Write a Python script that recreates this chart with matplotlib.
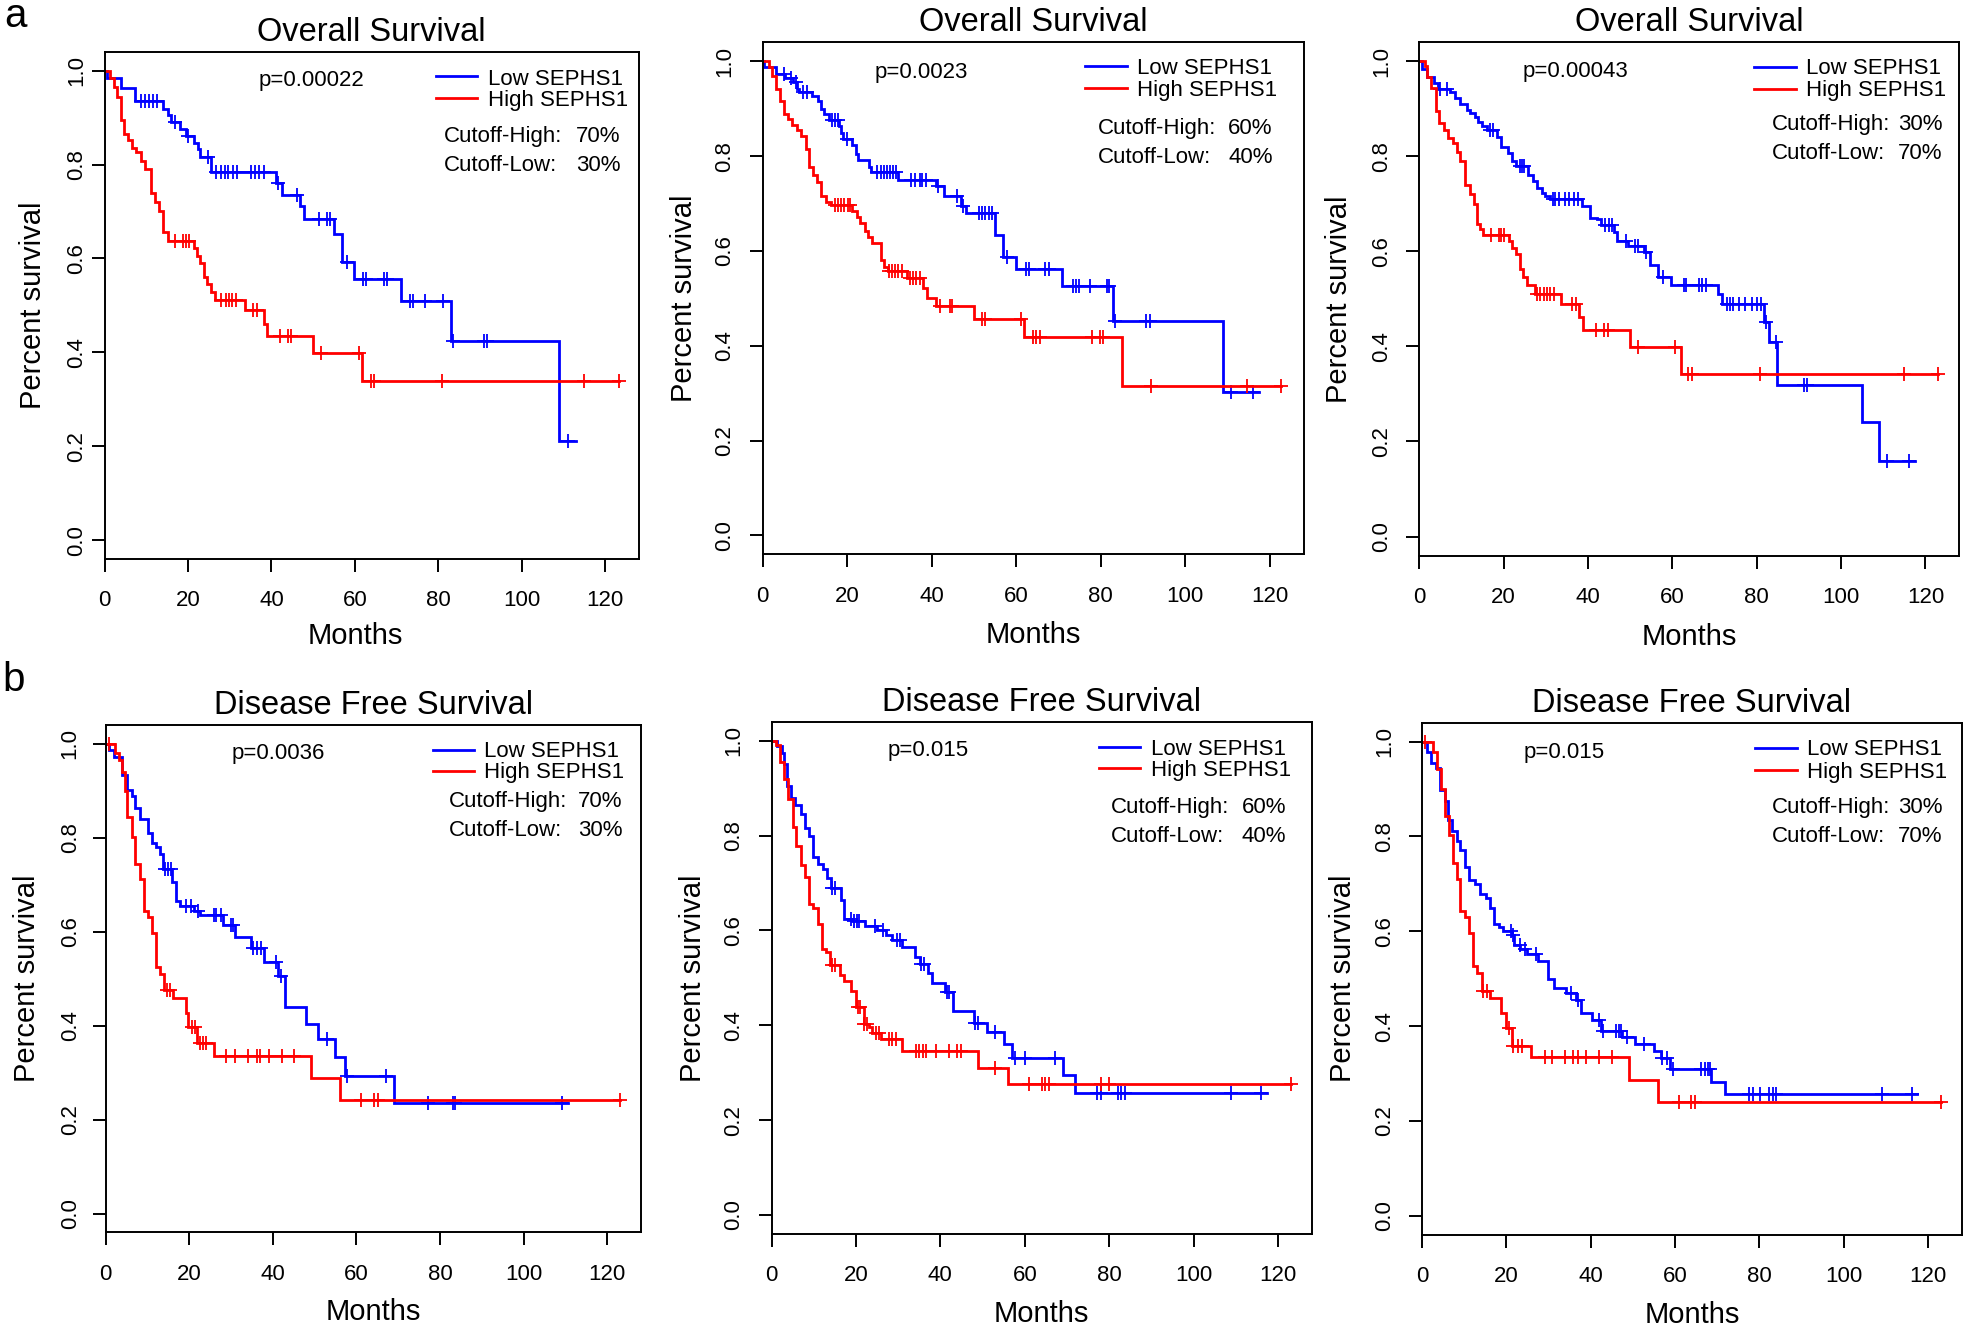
import matplotlib
matplotlib.use("Agg")
import matplotlib.pyplot as plt

plt.rcParams['font.family'] = ['Liberation Sans', 'DejaVu Sans']

W, H = 1965, 1328
BLUE = '#0000FF'
RED = '#FF0000'

# ------------------------------------------------------------------ data
# a1  Overall Survival, cutoff 70% / 30%
a1_low_t = [0.6, 4.0, 7.4, 13.9, 15.1, 15.9, 18.0, 19.5, 21.4, 22.4, 22.9, 25.6, 41.0, 42.5, 46.9, 47.8,
            55.0, 56.8, 59.9, 71.1, 83.1, 109.0]
a1_low_s = [0.984, 0.963, 0.935, 0.919, 0.906, 0.890, 0.876, 0.861, 0.845, 0.832, 0.816, 0.785, 0.760,
            0.735, 0.711, 0.684, 0.653, 0.593, 0.557, 0.510, 0.425, 0.212]
a1_low_c = [8.7, 9.7, 10.7, 11.7, 12.6, 16.8, 20.0, 24.9, 26.8, 27.8, 28.8, 29.7, 30.7, 31.7, 35.1, 36.1,
            37.1, 38.1, 41.5, 46.2, 51.3, 53.2, 54.0, 58.0, 62.0, 62.7, 66.9, 67.6, 73.3, 74.0, 76.7,
            81.1, 83.6, 90.9, 91.6, 111.0]
a1_low_end = 112.9
a1_high_t = [1.4, 2.3, 3.0, 3.9, 4.7, 5.7, 6.6, 7.5, 8.7, 9.6, 11.1, 12.0, 13.0, 13.9, 15.1, 21.4, 22.2,
             23.0, 23.8, 24.6, 25.4, 26.4, 33.7, 38.1, 39.0, 50.0, 61.8]
a1_high_s = [0.985, 0.965, 0.944, 0.895, 0.865, 0.853, 0.835, 0.826, 0.808, 0.790, 0.740, 0.720, 0.700,
             0.657, 0.638, 0.622, 0.606, 0.590, 0.560, 0.545, 0.528, 0.512, 0.490, 0.460, 0.435, 0.398,
             0.340]
a1_high_c = [16.8, 18.8, 19.6, 20.2, 28.0, 29.0, 29.8, 30.6, 31.5, 35.6, 36.6, 42.0, 43.9, 44.6, 51.8,
             60.9, 63.9, 64.6, 80.9, 115.0, 123.2]
a1_high_end = 123.2

# a2  Overall Survival, cutoff 60% / 40%
a2_low_t = [0.2, 3.2, 5.2, 7.2, 8.2, 8.7, 11.7, 13.1, 13.9, 14.6, 15.6, 18.1, 18.6, 19.1, 21.1, 22.1, 22.6,
            25.1, 25.6, 32.1, 41.0, 43.0, 47.0, 48.0, 55.0, 56.8, 60.0, 70.9, 82.9, 108.8]
a2_low_s = [0.987, 0.973, 0.965, 0.956, 0.942, 0.935, 0.926, 0.916, 0.900, 0.889, 0.876, 0.863, 0.849,
            0.836, 0.823, 0.805, 0.792, 0.778, 0.767, 0.749, 0.736, 0.716, 0.694, 0.679, 0.634, 0.588,
            0.561, 0.527, 0.452, 0.302]
a2_low_c = [5.0, 6.7, 7.9, 9.5, 10.5, 16.4, 17.1, 17.8, 19.9, 27.1, 27.9, 28.6, 29.4, 30.1, 30.9, 31.6,
            35.1, 36.1, 37.1, 37.8, 38.7, 41.5, 46.0, 47.5, 51.2, 52.0, 52.7, 53.5, 54.2, 57.9, 62.3,
            62.9, 66.9, 67.7, 73.4, 74.1, 74.9, 77.4, 81.4, 81.9, 83.4, 90.8, 91.6, 110.8, 116.0]
a2_low_end = 117.5
a2_high_t = [1.5, 2.2, 3.2, 4.0, 5.0, 6.0, 7.0, 8.0, 9.0, 10.2, 11.0, 12.0, 12.9, 13.9, 14.9, 16.1, 21.1,
             22.3, 23.1, 24.1, 24.9, 25.9, 27.9, 28.6, 29.6, 34.1, 38.0, 38.8, 41.0, 50.0, 61.8, 85.1]
a2_high_s = [0.987, 0.969, 0.942, 0.916, 0.889, 0.878, 0.865, 0.856, 0.843, 0.814, 0.776, 0.761, 0.745,
             0.716, 0.703, 0.696, 0.685, 0.672, 0.659, 0.643, 0.630, 0.616, 0.581, 0.566, 0.557, 0.543,
             0.521, 0.501, 0.483, 0.457, 0.419, 0.315]
a2_high_c = [17.1, 17.9, 18.6, 19.3, 20.1, 20.7, 29.8, 30.6, 31.3, 32.1, 32.9, 34.9, 35.6, 36.3, 37.1,
             42.0, 44.3, 44.8, 51.8, 52.5, 61.0, 63.9, 64.7, 65.7, 77.9, 79.7, 80.4, 91.8, 114.7, 122.7]
a2_high_end = 122.7

# a3  Overall Survival, cutoff 30% / 70%
a3_low_t = [0.7, 1.9, 3.4, 4.4, 7.4, 8.4, 9.7, 11.3, 12.0, 13.2, 14.0, 15.0, 16.0, 18.5, 19.5, 21.0, 22.0,
            23.0, 25.8, 27.0, 28.0, 29.0, 29.8, 31.1, 38.6, 40.6, 42.1, 43.1, 46.1, 46.9, 49.6, 53.2,
            54.7, 56.7, 59.7, 70.8, 71.8, 81.8, 82.8, 84.8, 104.9, 108.9]
a3_low_s = [0.984, 0.966, 0.953, 0.942, 0.934, 0.922, 0.909, 0.898, 0.891, 0.882, 0.873, 0.864, 0.855,
            0.840, 0.820, 0.807, 0.789, 0.780, 0.760, 0.747, 0.733, 0.723, 0.716, 0.709, 0.696, 0.671,
            0.668, 0.656, 0.641, 0.621, 0.612, 0.599, 0.572, 0.545, 0.530, 0.510, 0.490, 0.452, 0.410,
            0.319, 0.241, 0.160]
a3_low_c = [4.9, 6.7, 16.8, 17.5, 23.8, 24.3, 24.8, 31.6, 32.1, 33.1, 34.6, 35.6, 36.6, 37.6, 44.1, 45.1,
            45.8, 48.9, 51.2, 51.9, 53.7, 57.7, 62.7, 63.2, 66.2, 67.0, 68.0, 73.0, 73.7, 74.3, 75.8,
            77.3, 78.8, 80.1, 81.1, 82.3, 84.5, 91.2, 91.9, 110.9, 116.0]
a3_low_end = 117.5
a3_high_t = [1.4, 1.9, 2.9, 3.9, 4.7, 5.9, 6.9, 7.9, 8.9, 9.7, 10.8, 12.0, 13.0, 13.8, 14.5, 15.2, 21.2,
             22.0, 23.0, 23.8, 24.5, 25.5, 27.5, 33.6, 37.9, 38.9, 49.9, 62.0]
a3_high_s = [0.990, 0.966, 0.944, 0.895, 0.869, 0.855, 0.838, 0.827, 0.809, 0.789, 0.740, 0.721, 0.700,
             0.658, 0.647, 0.634, 0.621, 0.607, 0.594, 0.563, 0.547, 0.529, 0.510, 0.490, 0.461, 0.434,
             0.398, 0.341]
a3_high_c = [17.0, 18.8, 19.5, 20.2, 28.0, 28.7, 29.5, 30.4, 31.1, 31.9, 36.1, 37.1, 41.9, 43.9, 44.7,
             51.9, 60.7, 63.7, 64.7, 80.8, 115.0, 123.0]
a3_high_end = 123.0

# b1  Disease Free Survival, cutoff 70% / 30%
b1_low_t = [0.9, 1.9, 3.8, 5.2, 6.2, 6.9, 8.1, 10.1, 11.0, 12.0, 13.0, 13.8, 15.9, 16.9, 17.9, 21.1, 22.6,
            28.0, 30.9, 34.8, 38.0, 41.2, 42.9, 48.0, 50.9, 54.8, 57.3, 69.0]
b1_low_s = [0.988, 0.972, 0.934, 0.902, 0.890, 0.863, 0.841, 0.811, 0.789, 0.780, 0.766, 0.734, 0.707,
            0.666, 0.655, 0.644, 0.635, 0.615, 0.589, 0.565, 0.535, 0.506, 0.440, 0.403, 0.372, 0.334,
            0.293, 0.236]
b1_low_c = [14.3, 15.0, 15.7, 19.2, 20.5, 22.2, 26.0, 26.5, 27.5, 29.9, 30.4, 35.3, 36.3, 37.2, 40.8,
            41.9, 52.9, 57.8, 67.0, 77.1, 83.2, 83.7, 109.1]
b1_low_end = 110.6
b1_high_t = [2.3, 3.3, 3.8, 4.5, 5.2, 6.2, 7.1, 8.1, 9.1, 10.1, 11.0, 12.0, 13.0, 14.0, 16.2, 19.2, 19.8,
             21.8, 26.0, 49.2, 56.0]
b1_high_s = [0.981, 0.966, 0.941, 0.899, 0.845, 0.802, 0.745, 0.712, 0.644, 0.632, 0.597, 0.526, 0.510,
             0.476, 0.458, 0.428, 0.397, 0.363, 0.335, 0.288, 0.242]
b1_high_c = [0.9, 14.6, 15.3, 20.6, 21.4, 22.6, 23.3, 24.0, 28.9, 30.9, 34.1, 36.1, 37.0, 39.0, 42.1,
             45.1, 61.2, 64.1, 65.1, 123.0]
b1_high_end = 123.0

# b2  Disease Free Survival, cutoff 60% / 40%
b2_low_t = [1.2, 2.5, 3.0, 3.6, 4.6, 5.6, 6.9, 7.9, 8.9, 9.9, 10.9, 12.1, 13.1, 14.1, 16.5, 17.2, 19.1,
            22.1, 25.0, 27.0, 28.6, 31.0, 34.1, 35.1, 37.0, 38.0, 41.0, 43.0, 48.0, 51.0, 55.0, 57.0,
            69.0, 72.0]
b2_low_s = [0.990, 0.975, 0.951, 0.905, 0.880, 0.865, 0.845, 0.815, 0.800, 0.755, 0.740, 0.730, 0.710,
            0.690, 0.665, 0.625, 0.620, 0.610, 0.600, 0.590, 0.580, 0.565, 0.545, 0.530, 0.510, 0.490,
            0.470, 0.430, 0.405, 0.385, 0.360, 0.330, 0.295, 0.257]
b2_low_c = [14.3, 15.1, 18.9, 19.6, 20.2, 20.8, 24.5, 26.5, 29.8, 30.5, 35.5, 36.2, 41.5, 42.0, 48.2,
            49.0, 53.0, 57.8, 60.0, 67.1, 77.1, 78.1, 82.1, 82.9, 83.7, 109.0, 116.0]
b2_low_end = 117.5
b2_high_t = [1.1, 1.9, 2.9, 3.9, 5.1, 5.9, 6.9, 7.9, 8.9, 9.9, 10.9, 11.9, 12.9, 13.9, 16.1, 17.1, 18.9,
             19.9, 21.8, 23.0, 23.8, 26.0, 30.8, 49.0, 56.0]
b2_high_s = [0.992, 0.956, 0.919, 0.877, 0.819, 0.778, 0.738, 0.713, 0.656, 0.648, 0.613, 0.561, 0.554,
             0.527, 0.505, 0.494, 0.472, 0.438, 0.402, 0.396, 0.384, 0.372, 0.345, 0.309, 0.276]
b2_high_c = [14.3, 15.1, 20.5, 21.0, 22.0, 22.5, 24.8, 25.5, 27.8, 28.5, 29.5, 34.2, 35.0, 35.8, 36.5,
             39.0, 42.0, 44.0, 45.0, 53.0, 61.0, 64.1, 64.9, 65.7, 78.1, 79.9, 123.0]
b2_high_end = 123.0

# b3  Disease Free Survival, cutoff 30% / 70%
b3_low_t = [1.2, 2.2, 3.2, 4.2, 5.5, 6.2, 7.2, 8.2, 9.1, 10.1, 11.1, 12.5, 13.8, 15.1, 16.1, 17.1, 18.3,
            19.3, 21.3, 21.8, 23.3, 24.8, 27.4, 29.9, 31.2, 34.2, 36.4, 37.7, 40.4, 42.5, 47.5, 50.5,
            55.0, 56.7, 58.8, 68.6, 71.8]
b3_low_s = [0.979, 0.955, 0.944, 0.897, 0.874, 0.834, 0.812, 0.791, 0.771, 0.735, 0.709, 0.700, 0.679,
            0.671, 0.650, 0.616, 0.610, 0.601, 0.592, 0.571, 0.562, 0.552, 0.538, 0.500, 0.480, 0.469,
            0.455, 0.428, 0.413, 0.390, 0.377, 0.363, 0.347, 0.332, 0.309, 0.283, 0.257]
b3_low_c = [21.1, 21.6, 23.1, 24.5, 26.9, 35.4, 37.0, 42.0, 43.0, 46.0, 46.7, 47.2, 48.7, 52.7, 57.0,
            58.0, 59.6, 66.1, 67.1, 67.8, 68.3, 77.5, 78.5, 80.2, 82.2, 83.2, 83.9, 109.1, 116.1]
b3_low_end = 117.4
b3_high_t = [2.5, 3.5, 4.5, 5.5, 6.4, 7.4, 8.2, 9.1, 10.1, 11.1, 12.1, 13.1, 14.1, 16.1, 18.8, 19.8,
             21.3, 25.9, 49.0, 56.0]
b3_high_s = [0.978, 0.942, 0.901, 0.843, 0.803, 0.744, 0.711, 0.643, 0.630, 0.596, 0.526, 0.511, 0.475,
             0.459, 0.428, 0.395, 0.359, 0.335, 0.287, 0.240]
b3_high_c = [0.7, 14.5, 15.3, 20.5, 21.5, 22.8, 23.8, 29.2, 30.9, 33.9, 35.9, 36.9, 38.9, 42.0, 45.0,
             60.9, 63.8, 64.8, 123.1]
b3_high_end = 123.1

titles = ['Overall Survival'] * 3 + ['Disease Free Survival'] * 3
pvalues = ['p=0.00022', 'p=0.0023', 'p=0.00043', 'p=0.0036', 'p=0.015', 'p=0.015']
cutoff_high = ['70%', '60%', '30%', '70%', '60%', '30%']
cutoff_low = ['30%', '40%', '70%', '30%', '40%', '70%']
series_labels = ['Low SEPHS1', 'High SEPHS1']
x_ticks = [0, 20, 40, 60, 80, 100, 120]
y_ticks = [0.0, 0.2, 0.4, 0.6, 0.8, 1.0]
y_ticklabels = ['0.0', '0.2', '0.4', '0.6', '0.8', '1.0']

curves = [
    ((a1_low_t, a1_low_s, a1_low_c, a1_low_end), (a1_high_t, a1_high_s, a1_high_c, a1_high_end)),
    ((a2_low_t, a2_low_s, a2_low_c, a2_low_end), (a2_high_t, a2_high_s, a2_high_c, a2_high_end)),
    ((a3_low_t, a3_low_s, a3_low_c, a3_low_end), (a3_high_t, a3_high_s, a3_high_c, a3_high_end)),
    ((b1_low_t, b1_low_s, b1_low_c, b1_low_end), (b1_high_t, b1_high_s, b1_high_c, b1_high_end)),
    ((b2_low_t, b2_low_s, b2_low_c, b2_low_end), (b2_high_t, b2_high_s, b2_high_c, b2_high_end)),
    ((b3_low_t, b3_low_s, b3_low_c, b3_low_end), (b3_high_t, b3_high_s, b3_high_c, b3_high_end)),
]

# ------------------------------------------------------------------ layout
# pixel geometry per panel: x of month 0, x of month 120, top, bottom
geom = [
    (104.5, 605.3, 51.8, 559.0),
    (762.7, 1269.9, 42.3, 554.3),
    (1419.2, 1925.5, 42.1, 555.6),
    (105.7, 607.1, 725.2, 1232.3),
    (771.6, 1277.9, 721.8, 1233.9),
    (1422.1, 1928.1, 722.6, 1234.8),
]
XMAX = 128.0
YLIM = (-0.04, 1.04)

# text placement per panel (data coordinates)
p_pos = [(49.6, 0.968), (37.5, 0.965), (37.1, 0.966), (41.4, 0.968), (37.0, 0.967), (33.8, 0.966)]
leg_pos = [
    (79.5, 89.3, 91.9, 0.988, 0.942, 0.970, 0.924),
    (76.2, 86.1, 88.5, 0.989, 0.944, 0.973, 0.927),
    (79.3, 89.3, 91.7, 0.988, 0.942, 0.9725, 0.926),
    (78.3, 88.2, 90.5, 0.988, 0.943, 0.972, 0.927),
    (77.7, 87.4, 89.9, 0.987, 0.942, 0.971, 0.925),
    (79.0, 88.9, 91.2, 0.987, 0.940, 0.971, 0.924),
]
cut_pos = [
    (81.3, 123.7, 0.847, 0.787),
    (79.2, 120.7, 0.847, 0.785),
    (83.5, 124.0, 0.855, 0.795),
    (82.2, 123.7, 0.866, 0.805),
    (80.4, 122.0, 0.848, 0.787),
    (82.9, 123.4, 0.850, 0.789),
]
months_xfrac = [0.47, 0.5, 0.5, 0.5, 0.5, 0.5]
months_gap = [85, 89, 89, 88, 88, 88]
ylabel_gap = [64, 70.6, 72.6, 71, 71, 71.2]
ytick_pad = [3.0, 10, 10, 8.5, 10, 10]

fig = plt.figure(figsize=(W / 100, H / 100), dpi=100)
fig.patch.set_facecolor('white')


def surv_at(t, times, surv):
    s = 1.0
    for ti, si in zip(times, surv):
        if ti <= t:
            s = si
        else:
            break
    return s


for i in range(6):
    x0, x120, top, bot = geom[i]
    right = x0 + (x120 - x0) * XMAX / 120.0
    wpx = right - x0
    hpx = bot - top
    ax = fig.add_axes([x0 / W, 1 - bot / H, wpx / W, hpx / H])
    ax.set_xlim(0, XMAX)
    ax.set_ylim(*YLIM)

    for (times, surv, cens, end), col in zip(curves[i], [BLUE, RED]):
        tt = [0.0] + list(times) + [end]
        ss = [1.0] + list(surv) + [surv[-1]]
        ax.step(tt, ss, where='post', color=col, lw=2.0, solid_joinstyle='miter')
        cy = [surv_at(c, times, surv) for c in cens]
        ax.plot(cens, cy, linestyle='none', marker='+', ms=10, mew=1.3, color=col)

    for sp in ax.spines.values():
        sp.set_linewidth(1.4)
        sp.set_color('black')
    ax.set_xticks(x_ticks)
    ax.set_xticklabels([str(v) for v in x_ticks])
    ax.set_yticks(y_ticks)
    ax.set_yticklabels(y_ticklabels, rotation=90, va='center')
    ax.tick_params(axis='both', direction='out', length=9.5, width=1.4, labelsize=16, color='black')
    ax.tick_params(axis='x', pad=13)
    ax.tick_params(axis='y', pad=ytick_pad[i])

    ax.text(0.5, 1 + 11 / hpx, titles[i], transform=ax.transAxes, ha='center', va='baseline',
            fontsize=23.5)
    ax.text(months_xfrac[i], -months_gap[i] / hpx, 'Months', transform=ax.transAxes, ha='center',
            va='baseline', fontsize=21)
    ax.text(-ylabel_gap[i] / wpx, 0.5, 'Percent survival', transform=ax.transAxes, rotation=90,
            rotation_mode='anchor', ha='center', va='baseline', fontsize=21)

    px, py = p_pos[i]
    ax.text(px, py, pvalues[i], ha='center', va='baseline', fontsize=16)
    lx0, lx1, tx, ly_low, ly_high, lb_low, lb_high = leg_pos[i]
    ax.plot([lx0, lx1], [ly_low, ly_low], color=BLUE, lw=2.0)
    ax.plot([lx0, lx1], [ly_high, ly_high], color=RED, lw=2.0)
    ax.text(tx, lb_low, series_labels[0], ha='left', va='baseline', fontsize=16)
    ax.text(tx, lb_high, series_labels[1], ha='left', va='baseline', fontsize=16)
    cl, cr, cbh, cbl = cut_pos[i]
    ax.text(cl, cbh, 'Cutoff-High:', ha='left', va='baseline', fontsize=16)
    ax.text(cr, cbh, cutoff_high[i], ha='right', va='baseline', fontsize=16)
    ax.text(cl, cbl, 'Cutoff-Low:', ha='left', va='baseline', fontsize=16)
    ax.text(cr, cbl, cutoff_low[i], ha='right', va='baseline', fontsize=16)

fig.text(4 / W, 1 - 27.4 / H, 'a', fontsize=29, ha='left', va='baseline')
fig.text(2 / W, 1 - 690.7 / H, 'b', fontsize=29, ha='left', va='baseline')

fig.savefig('out.png', dpi=100, facecolor='white')
